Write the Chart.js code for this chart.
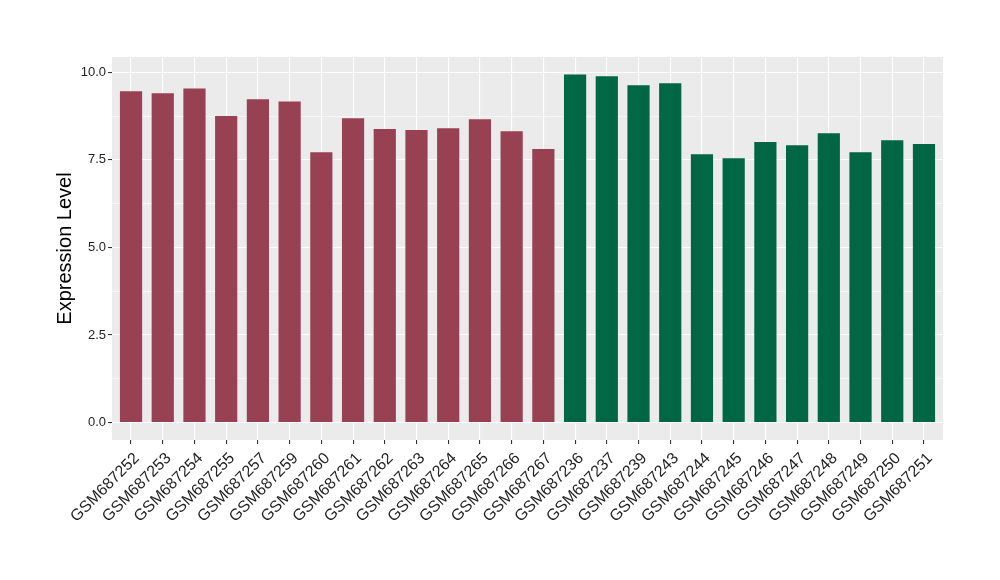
<!DOCTYPE html>
<html>
<head>
<meta charset="utf-8">
<script src="https://cdn.jsdelivr.net/npm/chart.js@4/dist/chart.umd.min.js"></script>
<style>
html,body{margin:0;padding:0;background:#ffffff;}
canvas{display:block;}
</style>
</head>
<body>
<canvas id="c" width="1000" height="580"></canvas>
<script>
const categories = ["GSM687252","GSM687253","GSM687254","GSM687255","GSM687257","GSM687259","GSM687260","GSM687261","GSM687262","GSM687263","GSM687264","GSM687265","GSM687266","GSM687267","GSM687236","GSM687237","GSM687239","GSM687243","GSM687244","GSM687245","GSM687246","GSM687247","GSM687248","GSM687249","GSM687250","GSM687251"];
const values = [9.46,9.40,9.54,8.75,9.23,9.17,7.72,8.69,8.38,8.35,8.40,8.66,8.32,7.81,9.94,9.89,9.63,9.69,7.66,7.55,8.01,7.92,8.26,7.72,8.06,7.95];
const groups = [0,0,0,0,0,0,0,0,0,0,0,0,0,0,1,1,1,1,1,1,1,1,1,1,1,1];
const groupColors = ["#984152","#006644"];
const yTicks = [0,2.5,5,7.5,10];
const yMinor = [1.25,3.75,6.25,8.75];
const yTitle = "Expression Level";

const FONT = '"Liberation Sans", Arial, Helvetica, sans-serif';

const panelBg = {
  id:'panelBg',
  beforeDraw(chart){
    const a = chart.chartArea, ctx = chart.ctx;
    ctx.save();
    ctx.fillStyle = '#EBEBEB';
    ctx.fillRect(a.left, a.top, a.right-a.left, a.bottom-a.top);
    ctx.restore();
  }
};

const vmax = Math.max(...values);
const ymin = -0.05*vmax, ymax = vmax*1.05;
const n = categories.length;

new Chart(document.getElementById('c'), {
  type:'bar',
  data:{
    datasets:[{
      data: values.map((v,i)=>({x:i+1,y:v})),
      backgroundColor: groups.map(g=>groupColors[g]),
      borderWidth:0,
      barPercentage:0.7,
      categoryPercentage:1.0
    }]
  },
  options:{
    responsive:false,
    animation:false,
    events:[],
    layout:{padding:{top:57,right:57,left:0,bottom:0}},
    plugins:{legend:{display:false},tooltip:{enabled:false}},
    scales:{
      x:{
        type:'linear',
        offset:false,
        min:0.4, max:n+0.6,
        afterBuildTicks(s){ s.ticks = categories.map((c,i)=>({value:i+1})); },
        afterFit(s){ s.height = 140; },
        border:{display:false},
        grid:{offset:false, color:'#FFFFFF', lineWidth:1.1, drawTicks:true, tickLength:4, tickColor:'#333333', tickWidth:1.1},
        ticks:{
          autoSkip:false, maxRotation:45, minRotation:45, padding:5, labelOffset:6,
          color:'#1F1F1F', font:{family:FONT, size:16},
          callback:(v)=>categories[Math.round(v)-1]
        }
      },
      y:{
        type:'linear',
        min:ymin, max:ymax,
        afterBuildTicks(s){
          const all = yTicks.concat(yMinor).sort((a,b)=>a-b);
          s.ticks = all.map(v=>({value:v}));
        },
        afterFit(s){ s.width = 112; },
        border:{display:false},
        grid:{
          color:'#FFFFFF',
          lineWidth:(c)=> (c.tick && yMinor.includes(c.tick.value)) ? 0.55 : 1.1,
          drawTicks:true, tickLength:4, tickWidth:1.1,
          tickColor:(c)=> (c.tick && yMinor.includes(c.tick.value)) ? 'rgba(0,0,0,0)' : '#333333'
        },
        ticks:{
          autoSkip:false, padding:2,
          color:'#1F1F1F', font:{family:FONT, size:13},
          callback:(v)=> yTicks.includes(v) ? v.toFixed(1) : ''
        },
        title:{display:true, text:yTitle, color:'#000000', font:{family:FONT, size:20}, padding:{top:53,bottom:0}}
      }
    }
  },
  plugins:[panelBg]
});
</script>
</body>
</html>
